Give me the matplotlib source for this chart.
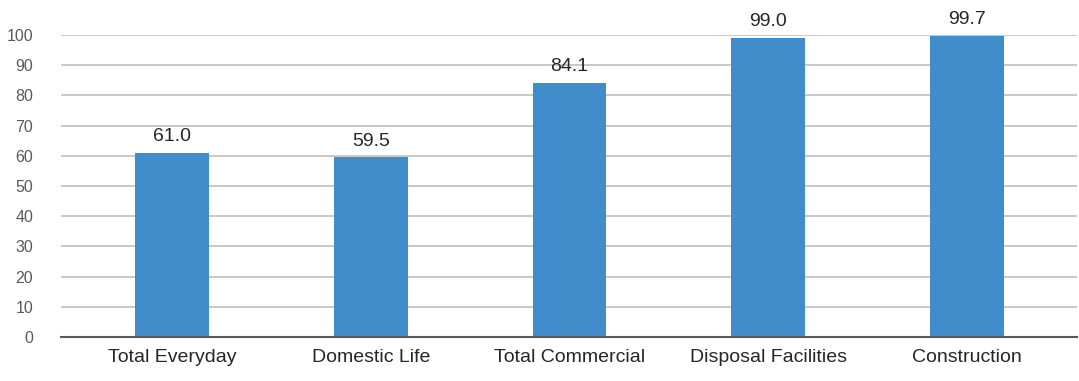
import matplotlib
matplotlib.use("Agg")
import matplotlib.pyplot as plt

categories = ["Total Everyday", "Domestic Life", "Total Commercial", "Disposal Facilities", "Construction"]
values = [61.0, 59.5, 84.1, 99.0, 99.7]
labels = ["61.0", "59.5", "84.1", "99.0", "99.7"]

plt.rcParams["font.family"] = ["Liberation Sans", "DejaVu Sans"]


def main():
    fig = plt.figure(figsize=(10.79, 3.81), dpi=100)
    ax = fig.add_axes([61 / 1079, 1 - 337 / 381, (1077 - 61) / 1079, (337 - 35) / 381])
    x = list(range(len(categories)))
    ax.bar(x, values, width=0.372, color="#418CCB", zorder=3)
    for xi, v, t in zip(x, values, labels):
        ax.text(xi, v + 2.5, t, ha="center", va="bottom", fontsize=14, color="#262626")
    ax.set_ylim(0, 100)
    ax.set_xlim(-0.558, 4.553)
    ax.set_yticks(range(0, 101, 10))
    ax.set_xticks(x)
    ax.set_xticklabels(categories, fontsize=14, color="#262626")
    ax.tick_params(axis="y", labelsize=11.5, labelcolor="#595959", length=0, pad=20)
    ax.tick_params(axis="x", length=0, pad=9)
    ax.yaxis.grid(True, color="#BFBFBF", linewidth=1.2, zorder=0)
    for s in ["top", "right", "left"]:
        ax.spines[s].set_visible(False)
    ax.spines["bottom"].set_color("#595959")
    ax.spines["bottom"].set_linewidth(1.5)
    ax.spines["bottom"].set_zorder(4)
    fig.savefig("out.png", dpi=100)


if __name__ == "__main__":
    main()
